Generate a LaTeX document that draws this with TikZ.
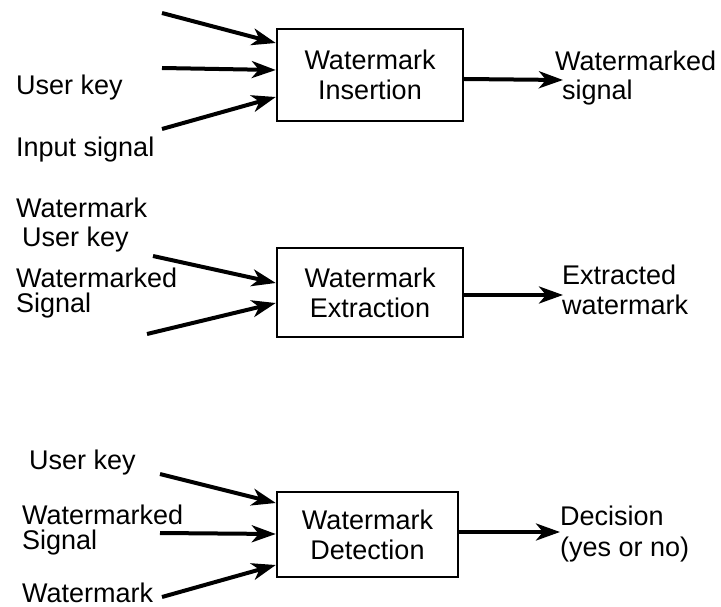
\documentclass[tikz,border=0pt]{standalone}
\usepackage{fontspec}
\setmainfont{Liberation Sans}
\usetikzlibrary{arrows.meta}

\tikzset{
  block/.style={draw, line width=2.4pt, inner sep=0pt, align=center,
    font=\fontsize{27}{30}\selectfont},
  lbl/.style={anchor=north west, inner sep=0pt, align=left,
    font=\fontsize{27}{30}\selectfont},
  arr/.style={line width=4pt, -{Stealth[length=24pt, width=17pt, inset=7pt]}}
}

\begin{document}
\begin{tikzpicture}[x=1pt, y=-1pt]
\useasboundingbox (0,0) rectangle (721,607);

% --- insertion ---
\node[block, minimum width=186pt, minimum height=92pt] (ins) at (370,75) {Watermark\\Insertion};
\coordinate (ia) at (162,13);
\coordinate (ib) at (162,68);
\coordinate (ic) at (162,129);
\coordinate (io) at (563,80);
\draw[arr] (ia) -- ([yshift=32pt]ins.west);
\draw[arr] (ib) -- ([yshift=5pt]ins.west);
\draw[arr] (ic) -- ([yshift=-22pt]ins.west);
\draw[arr] ([yshift=-4pt]ins.east) -- (io);
\node[lbl] (uk1) at (16,75) {User key};
\node[lbl] (in1) at (16,137) {Input signal};
\node[lbl] (wm1) at (555,51) {Watermarked\\[-1pt]\hspace*{7pt}signal};

% --- extraction ---
\node[block, minimum width=186pt, minimum height=89pt] (ext) at (370,292.5) {Watermark\\Extraction};
\coordinate (ea) at (153,256);
\coordinate (eb) at (147,334);
\coordinate (eo) at (563,295);
\draw[arr] (ea) -- ([yshift=9.5pt]ext.west);
\draw[arr] (eb) -- ([yshift=-10.5pt]ext.west);
\draw[arr] ([yshift=-2.5pt]ext.east) -- (eo);
\node[lbl] (wk2) at (16,198) {Watermark};
\node[lbl] (uk2) at (22,227) {User key};
\node[lbl] (ws2) at (16,268) {Watermarked\\[-5pt]Signal};
\node[lbl] (ew2) at (562,265) {Extracted\\watermark};

% --- detection ---
\node[block, minimum width=181pt, minimum height=85pt] (det) at (367.5,534.5) {Watermark\\Detection};
\coordinate (da) at (160,474);
\coordinate (db) at (160,533);
\coordinate (dc) at (162,597);
\coordinate (do) at (560,532);
\draw[arr] (da) -- ([yshift=31.5pt]det.west);
\draw[arr] (db) -- ([yshift=0.5pt]det.west);
\draw[arr] (dc) -- ([yshift=-30.5pt]det.west);
\draw[arr] ([yshift=2.5pt]det.east) -- (do);
\node[lbl] (uk3) at (29,450) {User key};
\node[lbl] (ws3) at (22,505) {Watermarked\\[-5pt]Signal};
\node[lbl] (wk3) at (22,583) {Watermark};
\node[lbl] (dc3) at (560,506) {Decision\\[1pt](yes or no)};
\end{tikzpicture}
\end{document}
